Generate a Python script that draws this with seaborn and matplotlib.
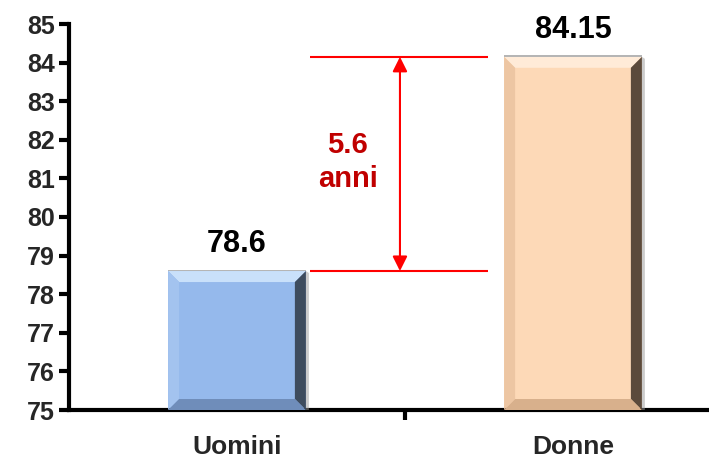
import numpy as np
import pandas as pd
import matplotlib
matplotlib.use("Agg")
import matplotlib.pyplot as plt
from matplotlib.patches import Polygon
import seaborn as sns

# dati
categorie = ["Uomini", "Donne"]
valori = [78.6, 84.15]
colori = ["#95B9EC", "#FDD9B7"]
# bevel: alto, sinistra, destra, basso
bevel_col = [
    ["#C9E0FA", "#A3C3EF", "#3E4C5E", "#6F8DBA"],
    ["#FFEBD8", "#EDC6A3", "#5B4A3C", "#D8B08C"],
]
yticks = list(range(75, 86))

sns.set_theme(style="white")
plt.rcParams["font.family"] = ["Liberation Sans", "DejaVu Sans"]

df = pd.DataFrame({"cat": categorie, "val": valori})

fig = plt.figure(figsize=(7.09, 4.59), dpi=100)
ax = fig.add_axes([69 / 709, 49 / 459, 640 / 709, 386 / 459])

sns.barplot(data=df, x="cat", y="val", hue="cat", palette=colori,
            width=0.41, dodge=False, legend=False, ax=ax, saturation=1,
            edgecolor="none")

ax.set_ylim(75, 85)
ax.set_xlim(-0.5, 640 / 336 - 0.5)
ax.set_yticks(yticks)
ax.set_yticklabels([str(t) for t in yticks], fontsize=18, fontweight="bold")
ax.set_xticks([0, 1])
ax.set_xticklabels(categorie, fontsize=19, fontweight="bold")
ax.set_xticks([0.5], minor=True)
ax.set_xlabel("")
ax.set_ylabel("")
ax.tick_params(axis="y", which="major", direction="out", length=7, width=3,
               color="black", left=True, pad=3)
ax.tick_params(axis="x", which="major", length=0, pad=18)
ax.tick_params(axis="x", which="minor", direction="out", length=7, width=3,
               color="black", bottom=True)
for s in ["top", "right"]:
    ax.spines[s].set_visible(False)
for s in ["left", "bottom"]:
    ax.spines[s].set_linewidth(3)
    ax.spines[s].set_color("black")
    ax.spines[s].set_zorder(5)

# effetto bevel sulle barre (in pixel)
fig.canvas.draw()
d = 11
for p, cols in zip(ax.patches, bevel_col):
    x0, y0 = ax.transData.transform((p.get_x(), 75))
    x1, y1 = ax.transData.transform((p.get_x() + p.get_width(), p.get_height()))
    # ombra esterna leggera
    sh = Polygon([(x1, y0), (x1 + 3, y0), (x1 + 3, y1 - 2), (x1, y1)],
                 closed=True, transform=None, facecolor="#9a9a9a", alpha=0.5,
                 edgecolor="none", zorder=2)
    fig.artists.append(sh)
    top = [(x0, y1), (x1, y1), (x1 - d, y1 - d), (x0 + d, y1 - d)]
    left = [(x0, y0), (x0, y1), (x0 + d, y1 - d), (x0 + d, y0 + d)]
    right = [(x1, y0), (x1, y1), (x1 - d, y1 - d), (x1 - d, y0 + d)]
    bottom = [(x0, y0), (x1, y0), (x1 - d, y0 + d), (x0 + d, y0 + d)]
    for poly, c in zip([top, left, right, bottom], cols):
        fig.artists.append(Polygon(poly, closed=True, transform=None,
                                   facecolor=c, edgecolor="none", zorder=3))
    # bordo grigio sottile in alto
    fig.artists.append(Polygon([(x0, y1), (x1, y1), (x1, y1 + 1.5), (x0, y1 + 1.5)],
                               closed=True, transform=None, facecolor="#b5b5b5",
                               edgecolor="none", zorder=3))

# etichette valori
for i, v in enumerate(valori):
    ax.text(i, v + 0.5, f"{v:g}", ha="center", va="baseline",
            fontsize=22, fontweight="bold", color="black", clip_on=False)

# differenza
diff = valori[1] - valori[0]
xl0, xl1 = 0.217, 0.747
ax.hlines(valori, xl0, xl1, colors="#FF0000", linewidth=1.5, zorder=4)
ax.annotate("", xy=(0.485, valori[1]), xytext=(0.485, valori[0]),
            arrowprops=dict(arrowstyle="<|-|>", color="#FF0000", lw=1.5,
                            mutation_scale=22, shrinkA=0, shrinkB=0))
ax.text(0.33, (valori[0] + valori[1]) / 2 + 0.05, f"{diff:.1f}\nanni",
        ha="center", va="center", fontsize=21, fontweight="bold",
        color="#C00000", linespacing=1.3)

fig.savefig("out.png", dpi=100)
